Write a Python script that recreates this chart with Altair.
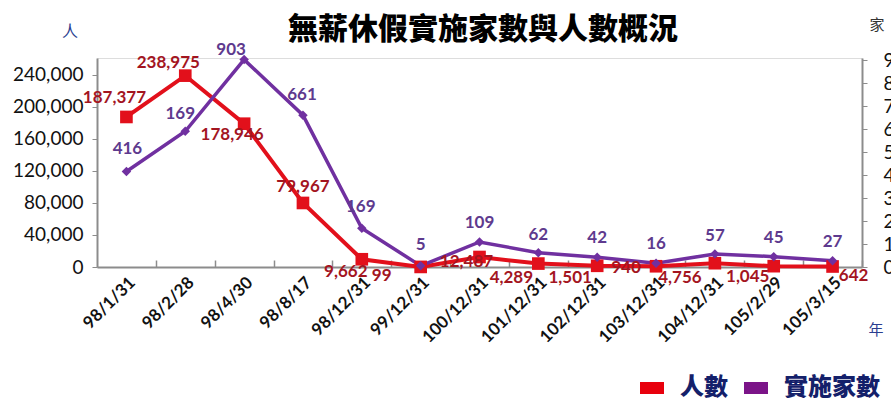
import altair as alt
import pandas as pd

# ---- data ----
categories = ["98/1/31", "98/2/28", "98/4/30", "98/8/17", "98/12/31", "99/12/31",
              "100/12/31", "101/12/31", "102/12/31", "103/12/31", "104/12/31",
              "105/2/29", "105/3/15"]
people = [187377, 238975, 178946, 79967, 9662, 99, 12487, 4289, 1501, 940, 4756, 1045, 642]
firms_plotted = [416, 591, 903, 661, 169, 5, 109, 62, 42, 16, 57, 45, 27]
firms_labels = ["416", "169", "903", "661", "169", "5", "109", "62", "42", "16", "57", "45", "27"]
series_names = ["人數", "實施家數"]
title_text = "無薪休假實施家數與人數概況"
left_ticks = [0, 40000, 80000, 120000, 160000, 200000, 240000]
right_ticks = [0, 100, 200, 300, 400, 500, 600, 700, 800, 900]

# ---- styling (not data) ----
RED = "#e2101b"
PURPLE = "#7030a0"
RED_LBL = "#a3151f"
PUR_LBL = "#5e3a8e"
NAVY = "#14206a"
W, H = 765, 209
red_off = [(-12, -19), (-17, -13), (-12, 11), (0, -16), (-16, 13), (-39, 9), (-13, 5),
           (-27, 14), (-27, 12), (-30, 2), (-35, 15), (-26, 11), (21, 10)]
pur_off = [(1, -22), (-5, -17), (-13, -10), (-1, -20), (-1, -21), (0, -21), (0, -19),
           (0, -18), (0, -19), (0, -19), (0, -18), (0, -19), (0, -19)]

df = pd.DataFrame({
    "cat": categories,
    "people": people,
    "firms": firms_plotted,
    "people_lbl": [f"{v:,}" for v in people],
    "firms_lbl": firms_labels,
})

xscale = alt.Scale(type="point", padding=0.5, domain=categories)
yL = alt.Scale(domain=[0, 261000], nice=False, zero=True)
yR = alt.Scale(domain=[0, 910], nice=False, zero=True)

base = alt.Chart(df)
X_NOAXIS = alt.X("cat:N", scale=xscale, sort=categories, axis=None)

red_line = base.mark_line(color=RED, strokeWidth=4).encode(
    x=alt.X("cat:N", scale=xscale, sort=categories, title=None,
            axis=alt.Axis(orient="bottom", labelAngle=-45, labelFont="Lato",
                          labelFontWeight="bold", labelFontSize=17, labelColor="#111",
                          labelPadding=7, ticks=False, domainColor="#8c8c8c",
                          domainWidth=2, grid=False)),
    y=alt.Y("people:Q", scale=yL, title=None,
            axis=alt.Axis(orient="left", values=left_ticks, format=",d", labelFont="Lato",
                          labelFontSize=19, labelColor="#111", domainColor="#8c8c8c",
                          domainWidth=2, tickColor="#8c8c8c", tickSize=5, labelPadding=9,
                          grid=False)),
)
red_pts = base.mark_square(color=RED, size=160, opacity=1).encode(
    x=X_NOAXIS, y=alt.Y("people:Q", scale=yL, axis=None),
)

pur_line = base.mark_line(color=PURPLE, strokeWidth=3.5).encode(
    x=alt.X("cat:N", scale=xscale, sort=categories, title=None,
            axis=alt.Axis(orient="top", offset=-H, labels=False, domain=False, ticks=True,
                          tickSize=7, tickColor="#8c8c8c", tickWidth=1.5,
                          tickOffset=W / len(categories) / 2, grid=False)),
    y=alt.Y("firms:Q", scale=yR, title=None,
            axis=alt.Axis(orient="right", values=right_ticks, format="d", labelFont="Lato",
                          labelFontSize=19, labelColor="#111", domainColor="#8c8c8c",
                          domainWidth=2, tickColor="#8c8c8c", tickSize=5, labelPadding=16,
                          grid=False)),
)
pur_pts = base.mark_point(color=PURPLE, shape="diamond", filled=True, size=90, opacity=1).encode(
    x=X_NOAXIS, y=alt.Y("firms:Q", scale=yR, axis=None),
)

# data labels, one small layer per point so each gets its own placement
text_layers = []
for i, cat in enumerate(categories):
    sel = base.transform_filter(alt.datum.cat == cat)
    dx, dy = red_off[i]
    text_layers.append(sel.mark_text(color=RED_LBL, font="Lato", fontWeight="bold",
                                     fontSize=17, dx=dx, dy=dy).encode(
        x=X_NOAXIS, y=alt.Y("people:Q", scale=yL, axis=None), text="people_lbl:N"))
    dx, dy = pur_off[i]
    text_layers.append(sel.mark_text(color=PUR_LBL, font="Lato", fontWeight="bold",
                                     fontSize=17, dx=dx, dy=dy).encode(
        x=X_NOAXIS, y=alt.Y("firms:Q", scale=yR, axis=None), text="firms_lbl:N"))

# legend driven by a color scale on an invisible layer
leg_df = pd.DataFrame({"s": series_names})
legend_layer = alt.Chart(leg_df).mark_point(filled=True, opacity=0).encode(
    x=alt.value(0), y=alt.value(0),
    color=alt.Color("s:N", scale=alt.Scale(domain=series_names, range=["#e8000d", "#7b1488"]),
                    sort=series_names,
                    legend=alt.Legend(orient="none", legendX=543, legendY=318,
                                      direction="horizontal", title=None,
                                      symbolType="M-1,-0.5H1V0.5H-1Z", symbolSize=576,
                                      symbolOpacity=1, symbolStrokeWidth=0,
                                      labelFont="Noto Sans CJK TC", labelFontSize=24,
                                      labelFontWeight=900, labelColor=NAVY,
                                      labelOffset=16, columnPadding=16)),
)

title_df = pd.DataFrame({"t": [title_text]})
title_layer = alt.Chart(title_df).mark_text(font="Noto Sans CJK TC", fontSize=30,
                                            fontWeight=900, color="#000").encode(
    x=alt.value(386), y=alt.value(-28), text="t:N")

ren_layer = alt.Chart(pd.DataFrame({"t": ["人"]})).mark_text(
    font="Noto Sans CJK TC", fontSize=16, color="#2a3d8f").encode(
    x=alt.value(-27), y=alt.value(-26), text="t:N")
jia_layer = alt.Chart(pd.DataFrame({"t": ["家"]})).mark_text(
    font="Noto Sans CJK TC", fontSize=15, color="#333").encode(
    x=alt.value(780), y=alt.value(-33), text="t:N")
nian_layer = alt.Chart(pd.DataFrame({"t": ["年"]})).mark_text(
    font="Noto Sans CJK TC", fontSize=15, color="#2a3d8f").encode(
    x=alt.value(779), y=alt.value(272), text="t:N")

chart = alt.layer(
    red_line, pur_line, red_pts, pur_pts, *text_layers,
    legend_layer, title_layer, ren_layer, jia_layer, nian_layer,
).resolve_scale(y="independent").resolve_axis(x="independent", y="independent").properties(
    width=W, height=H,
    autosize=alt.AutoSizeParams(type="none"),
    padding={"left": 97, "top": 58, "right": 29, "bottom": 136},
).configure_view(stroke=None).configure(background="white")

chart.save("out.html", embed_options={"renderer": "svg", "actions": False})
